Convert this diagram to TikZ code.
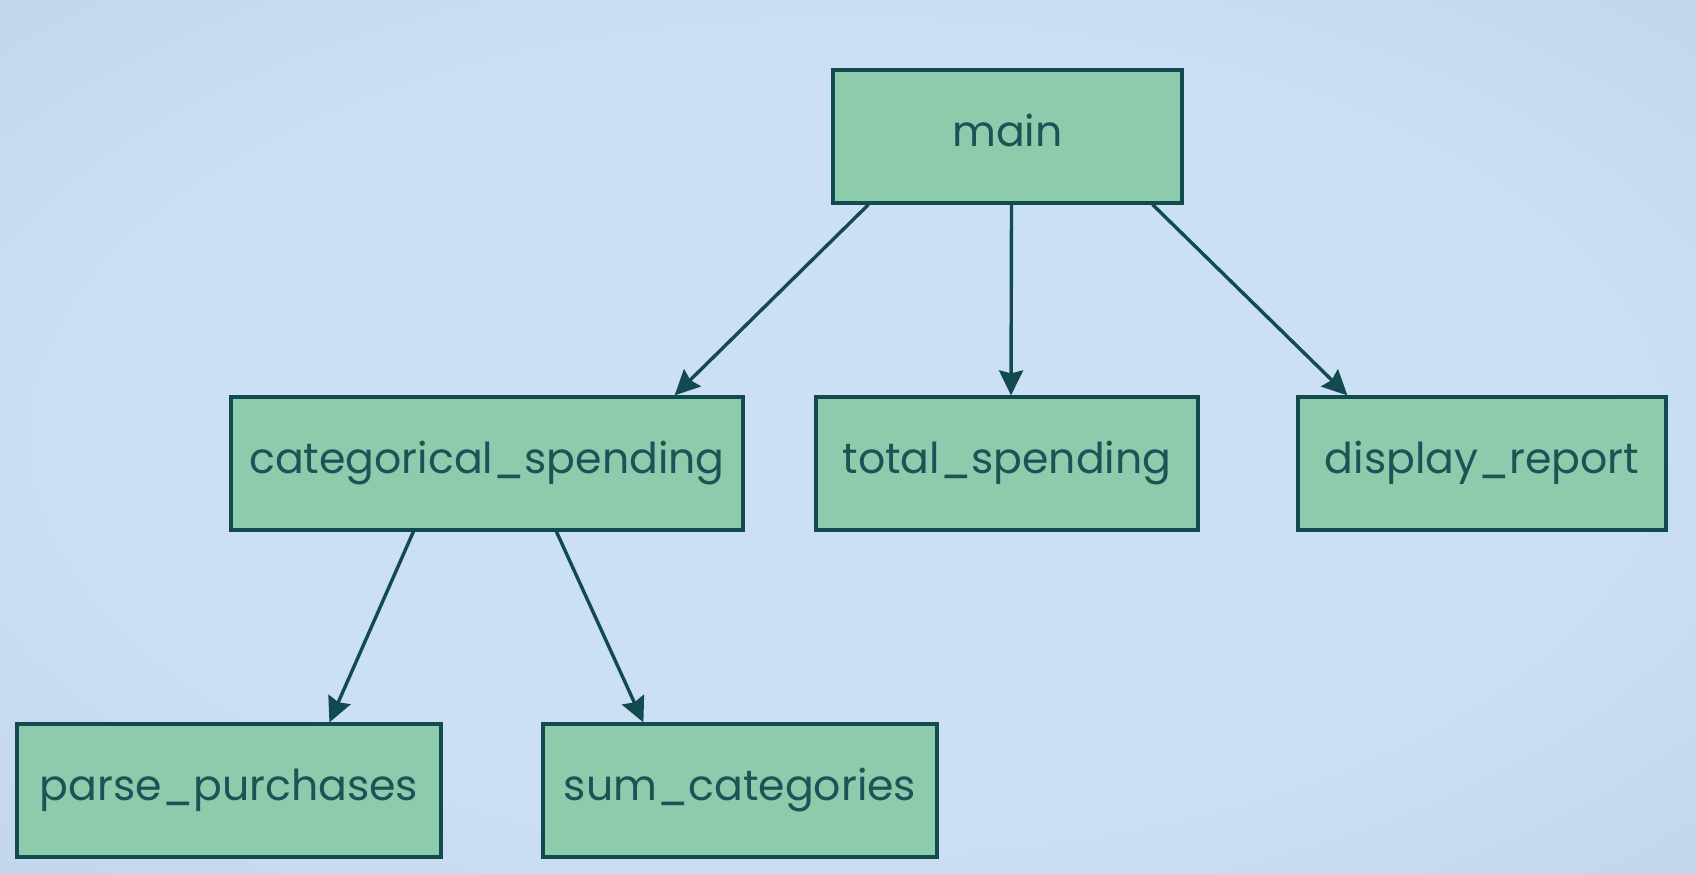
\documentclass[tikz,border=0pt]{standalone}
\usepackage{fontspec}
\setmainfont{Poppins}
\usetikzlibrary{arrows.meta}
\definecolor{boxfill}{HTML}{8CCBAB}
\definecolor{edge}{HTML}{134A4F}
\definecolor{txt}{HTML}{1D5257}
\definecolor{bgin}{HTML}{CBE0F5}
\definecolor{bgout}{HTML}{A8BDD2}
\pgfdeclareradialshading{bgshade}{\pgfpoint{0bp}{0bp}}{color(0bp)=(bgin); color(22bp)=(bgin); color(74bp)=(bgout)}
\begin{document}
\begin{tikzpicture}[x=1pt,y=-1pt,
  fnbox/.style={draw=edge, line width=3.2pt, fill=boxfill, rectangle, inner sep=0pt,
    minimum height=133pt, text=txt, font=\fontsize{42.6}{48}\selectfont,
    text height=20pt, text depth=0pt},
  call/.style={draw=edge, line width=3.4pt, -{Stealth[length=25pt,width=24pt,inset=3pt]}}]
\path[shading=bgshade] (0,0) rectangle (1696,873);
\useasboundingbox (0,0) rectangle (1696,873);
\node[fnbox, minimum width=349pt] (main) at (1007.5,136.5) {main};
\node[fnbox, minimum width=512pt] (cat) at (487,463.5) {categorical\_spending};
\node[fnbox, minimum width=382pt] (total) at (1007,463.5) {total\_spending};
\node[fnbox, minimum width=368pt] (disp) at (1482,463.5) {display\_report};
\node[fnbox, minimum width=424pt] (parse) at (229,790.5) {parse\_purchases};
\node[fnbox, minimum width=394pt] (sum) at (740,790.5) {sum\_categories};
\draw[call] ([xshift=37pt]main.south west) -- ([xshift=-70pt]cat.north east);
\draw[call] ([xshift=4pt]main.south) -- ([xshift=4pt]total.north);
\draw[call] ([xshift=-31pt]main.south east) -- ([xshift=51pt]disp.north west);
\draw[call] ([xshift=184pt]cat.south west) -- ([xshift=314pt]parse.north west);
\draw[call] ([xshift=327pt]cat.south west) -- ([xshift=102pt]sum.north west);
\end{tikzpicture}
\end{document}
